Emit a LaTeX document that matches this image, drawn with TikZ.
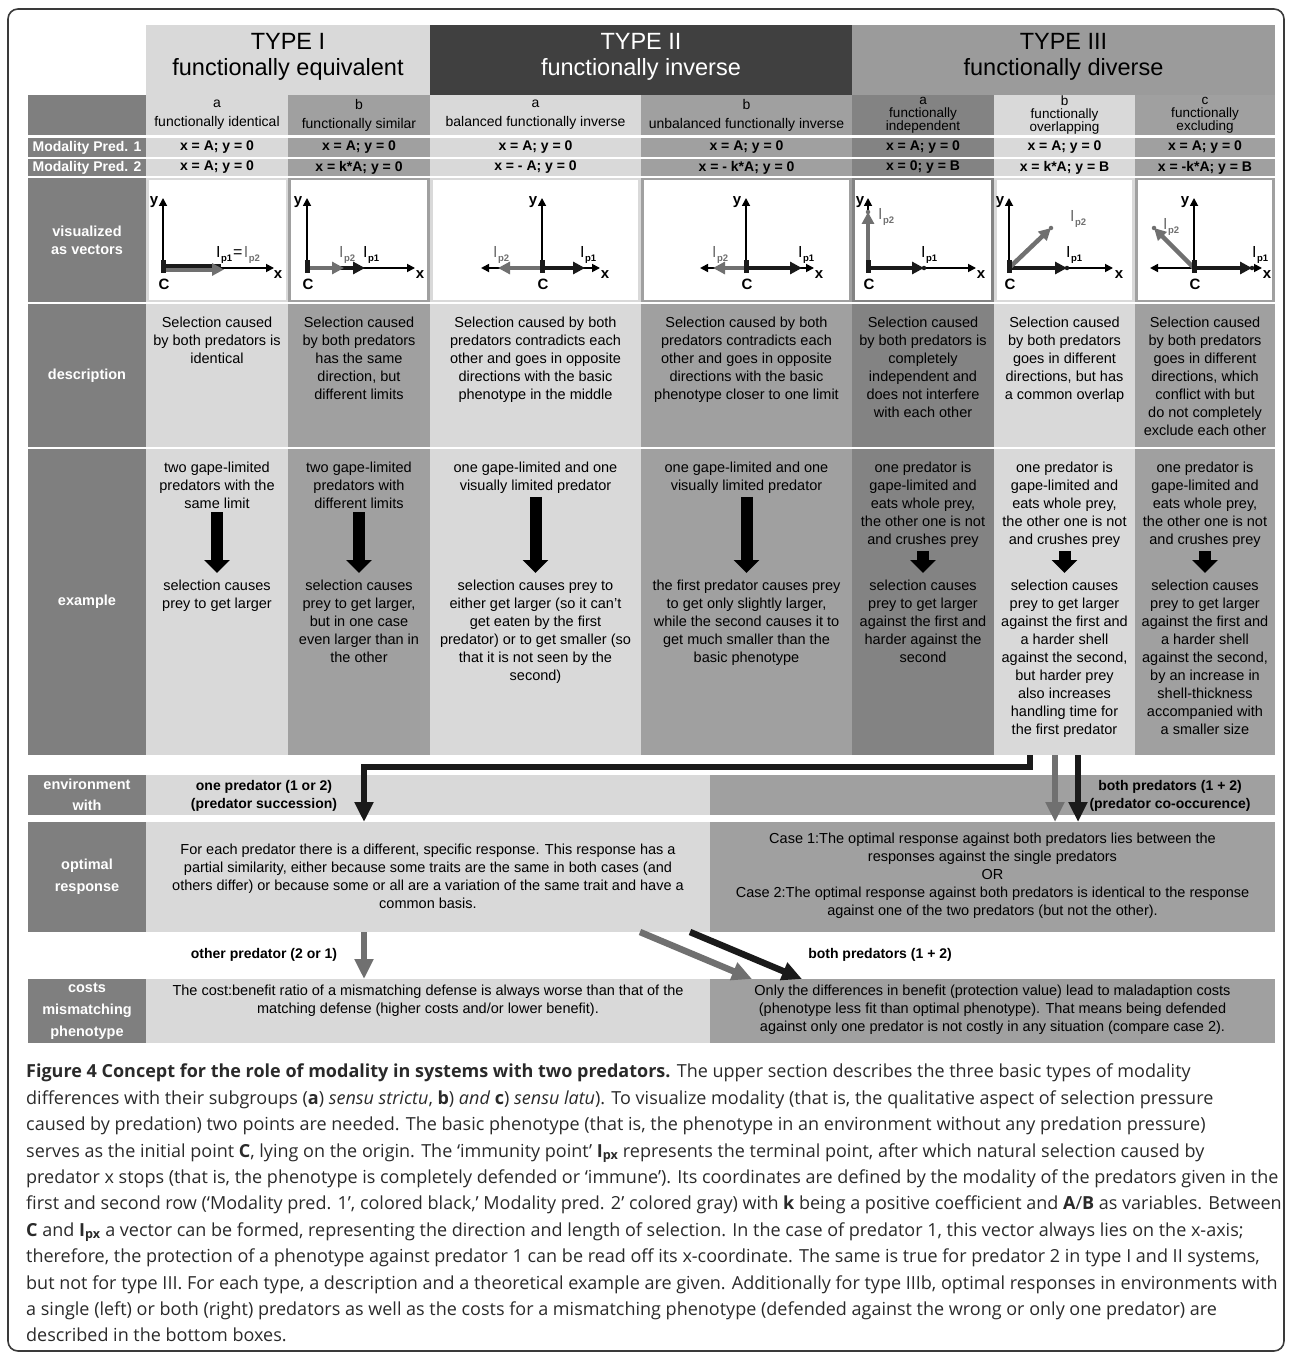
\documentclass[tikz,border=0pt]{standalone}
\usepackage{fontspec}
\setmainfont{Liberation Sans}
\newfontfamily\capfont{Open Sans}
\usepackage{xcolor}
\definecolor{cellLight}{HTML}{D9D9D9}
\definecolor{cellMid}{HTML}{A0A0A0}
\definecolor{cellDark}{HTML}{838383}
\definecolor{labelGray}{HTML}{7F7F7F}
\definecolor{typeTwoGray}{HTML}{404040}
\definecolor{typeThreeGray}{HTML}{9B9B9B}
\definecolor{vecGray}{HTML}{707070}
\definecolor{vecBlack}{HTML}{1A1A1A}
\definecolor{frameGray}{HTML}{3A3A3A}
\definecolor{capText}{HTML}{2A2A2A}
\usepackage{tikz}
\usetikzlibrary{arrows.meta, positioning, calc}

% immunity point label
\newcommand{\ipnt}[1]{I\kern0.4pt\raisebox{-4pt}{\fontsize{9.5}{9.5}\selectfont\bfseries p#1}}

\tikzset{
    % Base style for all table cells
    cell/.style={rectangle, inner sep=0pt, outer sep=0pt, draw=none},
    % Body text inside the cells
    body text/.style={font=\fontsize{14.5}{18}\selectfont, align=center, inner sep=0pt, text=black},
    % Row titles in the left column
    row title/.style={font=\bfseries\fontsize{14.5}{18}\selectfont, align=center, inner sep=0pt, text=white},
    % Type headers
    type head/.style={font=\fontsize{23.5}{26}\selectfont, align=center, inner sep=0pt},
    % Sub headers a/b/c
    sub head/.style={font=\fontsize{14}{19}\selectfont, align=center, inner sep=0pt},
    sub head tight/.style={font=\fontsize{13.5}{13.2}\selectfont, align=center, inner sep=0pt},
    % Modality rows
    mod text/.style={font=\bfseries\fontsize{14}{16}\selectfont, align=center, inner sep=0pt},
    % Vector plots
    vis box/.style={cell, fill=white},
    axis line/.style={line width=1.7pt, draw=black, -{Triangle[length=8pt, width=8pt]}},
    origin bar/.style={line width=5pt, draw=vecBlack},
    vec black/.style={line width=4.5pt, draw=vecBlack, -{Triangle[length=12pt, width=12pt]}},
    vec gray/.style={line width=4.5pt, draw=vecGray, -{Triangle[length=12pt, width=12pt]}},
    end dot/.style={circle, inner sep=0pt, minimum size=4.5pt},
    axis label/.style={font=\bfseries\fontsize{15}{15}\selectfont, inner sep=0pt},
    ip label/.style={font=\fontsize{16}{16}\selectfont, inner sep=0pt, anchor=base west},
    % Thick example arrows
    example arrow/.style={line width=12pt, draw=black, -{Triangle[length=13pt, width=25pt]},
        shorten <=3pt, shorten >=7pt},
    % Connectors in the lower section
    flow black/.style={line width=6.5pt, draw=vecBlack, -{Triangle[length=20pt, width=18pt]}},
    flow gray/.style={line width=6.5pt, draw=vecGray, -{Triangle[length=20pt, width=18pt]}},
    flow label/.style={font=\bfseries\fontsize{14}{18}\selectfont, align=center, inner sep=0pt},
    % Figure caption
    caption text/.style={font=\capfont\fontsize{18}{26.4}\selectfont, align=left, inner sep=0pt, text=capText},
}

\begin{document}
\begin{tikzpicture}[x=1pt, y=-1pt]
    \useasboundingbox (0,0) rectangle (1290,1356);
    \draw[line width=1.6pt, draw=frameGray, rounded corners=10pt] (8,9) rectangle (1284,1351);

    % type headers
    \node[cell, fill=cellLight, minimum width=284pt, minimum height=70pt] (typeI) at (288,60) {};
    \node[cell, fill=typeTwoGray, minimum width=422pt, minimum height=70pt] (typeII) at (641,60) {};
    \node[cell, fill=typeThreeGray, minimum width=423pt, minimum height=70pt] (typeIII) at (1063.5,60) {};
    \node[type head] (typeIt) at (288,57) {TYPE I\\functionally equivalent};
    \node[type head, text=white] (typeIIt) at (641,57) {TYPE II\\functionally inverse};
    \node[type head] (typeIIIt) at (1063.5,57) {TYPE III\\functionally diverse};

    % sub headers
    \node[cell, fill=labelGray, minimum width=118pt, minimum height=40pt] (subLab) at (87,115) {};
    \node[cell, sub head, fill=cellLight, minimum width=142pt, minimum height=40pt] (subIa) at (217,115) {a\\functionally identical};
    \node[cell, sub head, fill=cellMid, minimum width=142pt, minimum height=40pt] (subIb) at (359,115) {b\\functionally similar};
    \node[cell, sub head, fill=cellLight, minimum width=211pt, minimum height=40pt] (subIIa) at (535.5,115) {a\\balanced functionally inverse};
    \node[cell, sub head, fill=cellMid, minimum width=211pt, minimum height=40pt] (subIIb) at (746.5,115) {b\\unbalanced functionally inverse};
    \node[cell, sub head tight, fill=cellDark, minimum width=142pt, minimum height=40pt] (subIIIa) at (923,115) {a\\functionally\\independent};
    \node[cell, sub head tight, fill=cellLight, minimum width=141pt, minimum height=40pt] (subIIIb) at (1064.5,115) {b\\functionally\\overlapping};
    \node[cell, sub head tight, fill=cellMid, minimum width=140pt, minimum height=40pt] (subIIIc) at (1205,115) {c\\functionally\\excluding};

    % modality predator 1
    \node[cell, mod text, text=white, fill=labelGray, minimum width=118pt, minimum height=19pt] (modLab1) at (87,147.5) {Modality Pred. 1};
    \node[cell, mod text, fill=cellLight, minimum width=142pt, minimum height=19pt] (modIa1) at (217,147.5) {x = A; y = 0};
    \node[cell, mod text, fill=cellMid, minimum width=142pt, minimum height=19pt] (modIb1) at (359,147.5) {x = A; y = 0};
    \node[cell, mod text, fill=cellLight, minimum width=211pt, minimum height=19pt] (modIIa1) at (535.5,147.5) {x = A; y = 0};
    \node[cell, mod text, fill=cellMid, minimum width=211pt, minimum height=19pt] (modIIb1) at (746.5,147.5) {x = A; y = 0};
    \node[cell, mod text, fill=cellDark, minimum width=142pt, minimum height=19pt] (modIIIa1) at (923,147.5) {x = A; y = 0};
    \node[cell, mod text, fill=cellLight, minimum width=141pt, minimum height=19pt] (modIIIb1) at (1064.5,147.5) {x = A; y = 0};
    \node[cell, mod text, fill=cellMid, minimum width=140pt, minimum height=19pt] (modIIIc1) at (1205,147.5) {x = A; y = 0};

    % modality predator 2
    \node[cell, mod text, text=white, fill=labelGray, minimum width=118pt, minimum height=17pt] (modLab2) at (87,167.5) {Modality Pred. 2};
    \node[cell, mod text, fill=cellLight, minimum width=142pt, minimum height=17pt] (modIa2) at (217,167.5) {x = A; y = 0};
    \node[cell, mod text, fill=cellMid, minimum width=142pt, minimum height=17pt] (modIb2) at (359,167.5) {x = k*A; y = 0};
    \node[cell, mod text, fill=cellLight, minimum width=211pt, minimum height=17pt] (modIIa2) at (535.5,167.5) {x = - A; y = 0};
    \node[cell, mod text, fill=cellMid, minimum width=211pt, minimum height=17pt] (modIIb2) at (746.5,167.5) {x = - k*A; y = 0};
    \node[cell, mod text, fill=cellDark, minimum width=142pt, minimum height=17pt] (modIIIa2) at (923,167.5) {x = 0; y = B};
    \node[cell, mod text, fill=cellLight, minimum width=141pt, minimum height=17pt] (modIIIb2) at (1064.5,167.5) {x = k*A; y = B};
    \node[cell, mod text, fill=cellMid, minimum width=140pt, minimum height=17pt] (modIIIc2) at (1205,167.5) {x = -k*A; y = B};

    % visualized as vectors
    \node[cell, row title, fill=labelGray, minimum width=118pt, minimum height=124pt] (visLab) at (87,240) {visualized\\as vectors};
    \node[cell, fill=cellLight, minimum width=142pt, minimum height=124pt] (visIa) at (217,240) {};
    \node[cell, fill=cellMid, minimum width=142pt, minimum height=124pt] (visIb) at (359,240) {};
    \node[cell, fill=cellLight, minimum width=211pt, minimum height=124pt] (visIIa) at (535.5,240) {};
    \node[cell, fill=cellMid, minimum width=211pt, minimum height=124pt] (visIIb) at (746.5,240) {};
    \node[cell, fill=cellDark, minimum width=142pt, minimum height=124pt] (visIIIa) at (923,240) {};
    \node[cell, fill=cellLight, minimum width=141pt, minimum height=124pt] (visIIIb) at (1064.5,240) {};
    \node[cell, fill=cellMid, minimum width=140pt, minimum height=124pt] (visIIIc) at (1205,240) {};
    \node[vis box, minimum width=137pt, minimum height=119pt] (boxIa) at (217,240) {};
    \node[vis box, minimum width=136pt, minimum height=119pt] (boxIb) at (359,240) {};
    \node[vis box, minimum width=205pt, minimum height=119pt] (boxIIa) at (535.5,240) {};
    \node[vis box, minimum width=205pt, minimum height=119pt] (boxIIb) at (746.5,240) {};
    \node[vis box, minimum width=136pt, minimum height=119pt] (boxIIIa) at (923,240) {};
    \node[vis box, minimum width=135pt, minimum height=119pt] (boxIIIb) at (1064.5,240) {};
    \node[vis box, minimum width=134pt, minimum height=119pt] (boxIIIc) at (1205,240) {};

    % Ia vectors
    \begin{scope}[shift={(163,268)}]
        \draw[axis line] (0,0) -- (0,-70);
        \draw[axis line] (0,0) -- (111,0);
        \draw[line width=4pt, draw=vecBlack] (0,-2.5) -- (58,-2.5);
        \draw[vec gray, line width=4pt] (0,1.5) -- (61,1.5);
        \draw[origin bar] (0,-8) -- (0,5);
        \node[axis label] (yIa) at (-9,-66) {y};
        \node[axis label] (xIa) at (115,7) {x};
        \node[axis label] (cIa) at (1,16) {C};
        \node[ip label] (ipIa) at (53,-10) {\ipnt{1}\kern1pt{=}\kern1.5pt\textcolor{vecGray}{\ipnt{2}}};
    \end{scope}

    % Ib vectors
    \begin{scope}[shift={(307,268)}]
        \draw[axis line] (0,0) -- (0,-70);
        \draw[axis line] (0,0) -- (108,0);
        \draw[vec black] (0,0) -- (58,0);
        \draw[vec gray] (0,0) -- (37,0);
        \draw[origin bar] (0,-8) -- (0,5);
        \node[axis label] (yIb) at (-9,-66) {y};
        \node[axis label] (xIb) at (113,7) {x};
        \node[axis label] (cIb) at (1,16) {C};
        \node[ip label, text=vecGray] (ip2Ib) at (32,-10) {\ipnt{2}};
        \node[ip label] (ip1Ib) at (56,-10) {\ipnt{1}};
    \end{scope}

    % IIa vectors
    \begin{scope}[shift={(542,268)}]
        \draw[axis line] (0,0) -- (0,-70);
        \draw[axis line] (0,0) -- (58,0);
        \draw[axis line] (0,0) -- (-61,0);
        \draw[vec black] (0,0) -- (43,0);
        \draw[vec gray] (0,0) -- (-44,0);
        \draw[origin bar] (0,-8) -- (0,5);
        \node[axis label] (yIIa) at (-9,-66) {y};
        \node[axis label] (xIIa) at (63,7) {x};
        \node[axis label] (cIIa) at (1,16) {C};
        \node[ip label, text=vecGray] (ip2IIa) at (-49,-10) {\ipnt{2}};
        \node[ip label] (ip1IIa) at (38,-10) {\ipnt{1}};
    \end{scope}

    % IIb vectors
    \begin{scope}[shift={(746,268)}]
        \draw[axis line] (0,0) -- (0,-70);
        \draw[axis line] (0,0) -- (68,0);
        \draw[axis line] (0,0) -- (-46,0);
        \draw[vec black] (0,0) -- (56,0);
        \draw[vec gray] (0,0) -- (-33,0);
        \draw[origin bar] (0,-8) -- (0,5);
        \node[axis label] (yIIb) at (-9,-66) {y};
        \node[axis label] (xIIb) at (73,7) {x};
        \node[axis label] (cIIb) at (1,16) {C};
        \node[ip label, text=vecGray] (ip2IIb) at (-34,-10) {\ipnt{2}};
        \node[ip label] (ip1IIb) at (52,-10) {\ipnt{1}};
    \end{scope}

    % IIIa vectors
    \begin{scope}[shift={(868,268)}]
        \draw[axis line] (0,0) -- (0,-70);
        \draw[axis line] (0,0) -- (108,0);
        \draw[vec black] (0,0) -- (56,0);
        \draw[vec gray] (0,0) -- (0,-56);
        \draw[origin bar] (0,-8) -- (0,5);
        \node[end dot, fill=vecGray] (dIIIa) at (0,-56) {};
        \node[end dot, fill=vecBlack] (eIIIa) at (56,0) {};
        \node[axis label] (yIIIa) at (-8,-66) {y};
        \node[axis label] (xIIIa) at (113,7) {x};
        \node[axis label] (cIIIa) at (1,16) {C};
        \node[ip label, text=vecGray] (ip2IIIa) at (10,-48) {\ipnt{2}};
        \node[ip label] (ip1IIIa) at (53,-10) {\ipnt{1}};
    \end{scope}

    % IIIb vectors
    \begin{scope}[shift={(1009,268)}]
        \draw[axis line] (0,0) -- (0,-70);
        \draw[axis line] (0,0) -- (104,0);
        \draw[vec black] (0,0) -- (58,0);
        \draw[vec gray] (0,0) -- (42,-40);
        \draw[origin bar] (0,-8) -- (0,5);
        \node[end dot, fill=vecGray] (dIIIb) at (42,-40) {};
        \node[end dot, fill=vecBlack] (eIIIb) at (58,0) {};
        \node[axis label] (yIIIb) at (-9,-66) {y};
        \node[axis label] (xIIIb) at (110,7) {x};
        \node[axis label] (cIIIb) at (1,16) {C};
        \node[ip label, text=vecGray] (ip2IIIb) at (61,-46) {\ipnt{2}};
        \node[ip label] (ip1IIIb) at (57,-10) {\ipnt{1}};
    \end{scope}

    % IIIc vectors
    \begin{scope}[shift={(1194,268)}]
        \draw[axis line] (0,0) -- (0,-70);
        \draw[axis line] (0,0) -- (68,0);
        \draw[axis line] (0,0) -- (-44,0);
        \draw[vec black] (0,0) -- (58,0);
        \draw[vec gray] (0,0) -- (-40,-40);
        \draw[origin bar] (0,-8) -- (0,5);
        \node[end dot, fill=vecGray] (dIIIc) at (-40,-40) {};
        \node[end dot, fill=vecBlack] (eIIIc) at (58,0) {};
        \node[axis label] (yIIIc) at (-9,-66) {y};
        \node[axis label] (xIIIc) at (73,7) {x};
        \node[axis label] (cIIIc) at (1,16) {C};
        \node[ip label, text=vecGray] (ip2IIIc) at (-31,-38) {\ipnt{2}};
        \node[ip label] (ip1IIIc) at (58,-10) {\ipnt{1}};
    \end{scope}

    % description
    \node[cell, row title, fill=labelGray, minimum width=118pt, minimum height=143pt] (descLab) at (87,375.5) {description};
    \node[cell, fill=cellLight, minimum width=142pt, minimum height=143pt] (descIa) at (217,375.5) {};
    \node[cell, fill=cellMid, minimum width=142pt, minimum height=143pt] (descIb) at (359,375.5) {};
    \node[cell, fill=cellLight, minimum width=211pt, minimum height=143pt] (descIIa) at (535.5,375.5) {};
    \node[cell, fill=cellMid, minimum width=211pt, minimum height=143pt] (descIIb) at (746.5,375.5) {};
    \node[cell, fill=cellDark, minimum width=142pt, minimum height=143pt] (descIIIa) at (923,375.5) {};
    \node[cell, fill=cellLight, minimum width=141pt, minimum height=143pt] (descIIIb) at (1064.5,375.5) {};
    \node[cell, fill=cellMid, minimum width=140pt, minimum height=143pt] (descIIIc) at (1205,375.5) {};
    \node[body text, anchor=north] (dtIa) at (217,317) {Selection caused\\by both predators is\\identical};
    \node[body text, anchor=north] (dtIb) at (359,317) {Selection caused\\by both predators\\has the same\\direction, but\\different limits};
    \node[body text, anchor=north] (dtIIa) at (535.5,317) {Selection caused by both\\predators contradicts each\\other and goes in opposite\\directions with the basic\\phenotype in the middle};
    \node[body text, anchor=north] (dtIIb) at (746.5,317) {Selection caused by both\\predators contradicts each\\other and goes in opposite\\directions with the basic\\phenotype closer to one limit};
    \node[body text, anchor=north] (dtIIIa) at (923,317) {Selection caused\\by both predators is\\completely\\independent and\\does not interfere\\with each other};
    \node[body text, anchor=north] (dtIIIb) at (1064.5,317) {Selection caused\\by both predators\\goes in different\\directions, but has\\a common overlap};
    \node[body text, anchor=north] (dtIIIc) at (1205,317) {Selection caused\\by both predators\\goes in different\\directions, which\\conflict with but\\do not completely\\exclude each other};

    % example
    \node[cell, row title, fill=labelGray, minimum width=118pt, minimum height=306pt] (exLab) at (87,602) {example};
    \node[cell, fill=cellLight, minimum width=142pt, minimum height=306pt] (exIa) at (217,602) {};
    \node[cell, fill=cellMid, minimum width=142pt, minimum height=306pt] (exIb) at (359,602) {};
    \node[cell, fill=cellLight, minimum width=211pt, minimum height=306pt] (exIIa) at (535.5,602) {};
    \node[cell, fill=cellMid, minimum width=211pt, minimum height=306pt] (exIIb) at (746.5,602) {};
    \node[cell, fill=cellDark, minimum width=142pt, minimum height=306pt] (exIIIa) at (923,602) {};
    \node[cell, fill=cellLight, minimum width=141pt, minimum height=306pt] (exIIIb) at (1064.5,602) {};
    \node[cell, fill=cellMid, minimum width=140pt, minimum height=306pt] (exIIIc) at (1205,602) {};

    \node[body text, anchor=north] (topIa) at (217,462) {two gape-limited\\predators with the\\same limit};
    \node[body text, anchor=north] (topIb) at (359,462) {two gape-limited\\predators with\\different limits};
    \node[body text, anchor=north] (topIIa) at (535.5,462) {one gape-limited and one\\visually limited predator};
    \node[body text, anchor=north] (topIIb) at (746.5,462) {one gape-limited and one\\visually limited predator};
    \node[body text, anchor=north] (topIIIa) at (923,462) {one predator is\\gape-limited and\\eats whole prey,\\the other one is not\\and crushes prey};
    \node[body text, anchor=north] (topIIIb) at (1064.5,462) {one predator is\\gape-limited and\\eats whole prey,\\the other one is not\\and crushes prey};
    \node[body text, anchor=north] (topIIIc) at (1205,462) {one predator is\\gape-limited and\\eats whole prey,\\the other one is not\\and crushes prey};

    \node[body text, anchor=north] (botIa) at (217,580) {selection causes\\prey to get larger};
    \node[body text, anchor=north] (botIb) at (359,580) {selection causes\\prey to get larger,\\but in one case\\even larger than in\\the other};
    \node[body text, anchor=north] (botIIa) at (535.5,580) {selection causes prey to\\either get larger (so it can't\\get eaten by the first\\predator) or to get smaller (so\\that it is not seen by the\\second)};
    \node[body text, anchor=north] (botIIb) at (746.5,580) {the first predator causes prey\\to get only slightly larger,\\while the second causes it to\\get much smaller than the\\basic phenotype};
    \node[body text, anchor=north] (botIIIa) at (923,580) {selection causes\\prey to get larger\\against the first and\\harder against the\\second};
    \node[body text, anchor=north] (botIIIb) at (1064.5,580) {selection causes\\prey to get larger\\against the first and\\a harder shell\\against the second,\\but harder prey\\also increases\\handling time for\\the first predator};
    \node[body text, anchor=north] (botIIIc) at (1205,580) {selection causes\\prey to get larger\\against the first and\\a harder shell\\against the second,\\by an increase in\\shell-thickness\\accompanied with\\a smaller size};

    \draw[example arrow] (topIa.south) -- (botIa.north);
    \draw[example arrow] (topIb.south) -- (botIb.north);
    \draw[example arrow] (topIIa.south) -- (botIIa.north);
    \draw[example arrow] (topIIb.south) -- (botIIb.north);
    \draw[example arrow] (topIIIa.south) -- (botIIIa.north);
    \draw[example arrow] (topIIIb.south) -- (botIIIb.north);
    \draw[example arrow] (topIIIc.south) -- (botIIIc.north);

    % environment with
    \node[cell, font=\bfseries\fontsize{14.5}{21}\selectfont, align=center, text=white, fill=labelGray, minimum width=118pt, minimum height=40pt] (envLab) at (87,795) {environment\\with};
    \node[cell, fill=cellLight, minimum width=564pt, minimum height=40pt] (envL) at (428,795) {};
    \node[cell, fill=cellMid, minimum width=565pt, minimum height=40pt] (envR) at (992.5,795) {};
    \node[flow label] (envLt) at (264,796) {one predator (1 or 2)\\(predator succession)};
    \node[flow label] (envRt) at (1170,796) {both predators (1 + 2)\\(predator co-occurence)};

    % optimal response
    \node[cell, font=\bfseries\fontsize{14.5}{22}\selectfont, align=center, text=white, fill=labelGray, minimum width=118pt, minimum height=110pt] (optLab) at (87,877) {optimal\\response};
    \node[cell, fill=cellLight, minimum width=564pt, minimum height=110pt] (optL) at (428,877) {};
    \node[cell, fill=cellMid, minimum width=565pt, minimum height=110pt] (optR) at (992.5,877) {};
    \node[body text, anchor=north] (optLt) at (428,844) {For each predator there is a different, specific response. This response has a\\partial similarity, either because some traits are the same in both cases (and\\others differ) or because some or all are a variation of the same trait and have a\\common basis.};
    \node[body text, anchor=north] (optRt) at (992.5,833) {Case 1:The optimal response against both predators lies between the\\responses against the single predators\\OR\\Case 2:The optimal response against both predators is identical to the response\\against one of the two predators (but not the other).};

    % costs mismatching phenotype
    \node[cell, font=\bfseries\fontsize{14.5}{22}\selectfont, align=center, text=white, fill=labelGray, minimum width=118pt, minimum height=64pt] (costLab) at (87,1011) {costs\\mismatching\\phenotype};
    \node[cell, fill=cellLight, minimum width=564pt, minimum height=64pt] (costL) at (428,1011) {};
    \node[cell, fill=cellMid, minimum width=565pt, minimum height=64pt] (costR) at (992.5,1011) {};
    \node[body text, anchor=north] (costLt) at (428,985) {The cost:benefit ratio of a mismatching defense is always worse than that of the\\matching defense (higher costs and/or lower benefit).};
    \node[body text, anchor=north] (costRt) at (992.5,985) {Only the differences in benefit (protection value) lead to maladaption costs\\(phenotype less fit than optimal phenotype). That means being defended\\against only one predator is not costly in any situation (compare case 2).};
    \node[flow label] (otherLbl) at (264,955) {other predator (2 or 1)};
    \node[flow label] (bothLbl) at (880,955) {both predators (1 + 2)};

    % connectors
    \coordinate (elbowR) at (1030,767);
    \coordinate (elbowL) at (364,767);
    \coordinate (coGray) at (1055,0);
    \coordinate (coBlack) at (1078,0);
    \coordinate (gStart) at (640,0);
    \coordinate (gEnd) at (752,0);
    \coordinate (bStart) at (690,0);
    \coordinate (bEnd) at (802,0);

    \draw[flow black] (exIIIb.south -| elbowR) -- (elbowR) -- (elbowL) -- (optL.north -| elbowL);
    \draw[flow gray] (exIIIb.south -| coGray) -- (optR.north -| coGray);
    \draw[flow black] (exIIIb.south -| coBlack) -- (optR.north -| coBlack);
    \draw[flow gray] (optL.south -| elbowL) -- (costL.north -| elbowL);
    \draw[flow gray] (optL.south -| gStart) -- (costR.north -| gEnd);
    \draw[flow black] (optL.south -| bStart) -- (costR.north -| bEnd);

    % caption
    \node[caption text, anchor=north west] (figCap) at (26,1064) {%
\textbf{Figure 4 Concept for the role of modality in systems with two predators.} The upper section describes the three basic types of modality\\
differences with their subgroups (\textbf{a}) \textit{sensu strictu}, \textbf{b}) \textit{and} \textbf{c}) \textit{sensu latu}). To visualize modality (that is, the qualitative aspect of selection pressure\\
caused by predation) two points are needed. The basic phenotype (that is, the phenotype in an environment without any predation pressure)\\
serves as the initial point \textbf{C}, lying on the origin. The ‘immunity point’ \textbf{I\textsubscript{px}} represents the terminal point, after which natural selection caused by\\
predator x stops (that is, the phenotype is completely defended or ‘immune’). Its coordinates are defined by the modality of the predators given in the\\
first and second row (‘Modality pred. 1’, colored black,’ Modality pred. 2’ colored gray) with \textbf{k} being a positive coefficient and \textbf{A}/\textbf{B} as variables. Between\\
\textbf{C} and \textbf{I\textsubscript{px}} a vector can be formed, representing the direction and length of selection. In the case of predator 1, this vector always lies on the x-axis;\\
therefore, the protection of a phenotype against predator 1 can be read off its x-coordinate. The same is true for predator 2 in type I and II systems,\\
but not for type III. For each type, a description and a theoretical example are given. Additionally for type IIIb, optimal responses in environments with\\
a single (left) or both (right) predators as well as the costs for a mismatching phenotype (defended against the wrong or only one predator) are\\
described in the bottom boxes.};
\end{tikzpicture}
\end{document}
